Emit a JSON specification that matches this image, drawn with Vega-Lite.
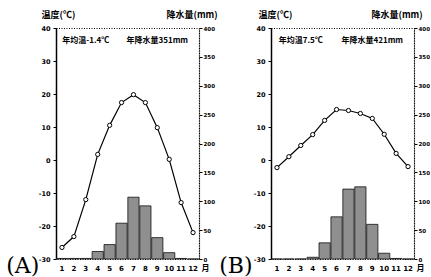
{
  "$schema": "https://vega.github.io/schema/vega-lite/v6.json",
  "background": "white",
  "padding": {"left": 5, "top": 9, "right": 0, "bottom": 0},
  "spacing": 72,
  "bounds": "flush",
  "config": {
    "font": "Noto Sans CJK SC",
    "view": {"stroke": "#000", "strokeDash": [1, 1.5], "strokeWidth": 1},
    "axis": {"labelFont": "DejaVu Sans", "labelFontSize": 7, "labelFontWeight": "bold", "labelColor": "#000", "domainColor": "#000", "tickColor": "#000", "grid": false, "labelOverlap": false, "labelBound": false, "labelFlush": false, "titleFont": "Noto Sans CJK SC", "titleFontSize": 9, "titleFontWeight": "bold", "titleColor": "#000"}
  },
  "datasets": {
    "A": [
      {"month": 1, "temp": -26.5, "precip": 1},
      {"month": 2, "temp": -23.2, "precip": 1},
      {"month": 3, "temp": -12.0, "precip": 1},
      {"month": 4, "temp": 1.7, "precip": 13},
      {"month": 5, "temp": 10.5, "precip": 25},
      {"month": 6, "temp": 17.4, "precip": 62},
      {"month": 7, "temp": 19.8, "precip": 107},
      {"month": 8, "temp": 17.4, "precip": 92},
      {"month": 9, "temp": 9.8, "precip": 37},
      {"month": 10, "temp": 0.2, "precip": 11},
      {"month": 11, "temp": -12.9, "precip": 1},
      {"month": 12, "temp": -22.0, "precip": 0}
    ],
    "B": [
      {"month": 1, "temp": -2.3, "precip": 0},
      {"month": 2, "temp": 1.0, "precip": 0},
      {"month": 3, "temp": 4.4, "precip": 0},
      {"month": 4, "temp": 7.7, "precip": 3},
      {"month": 5, "temp": 12.0, "precip": 28},
      {"month": 6, "temp": 15.3, "precip": 73},
      {"month": 7, "temp": 15.0, "precip": 121},
      {"month": 8, "temp": 14.1, "precip": 125},
      {"month": 9, "temp": 12.6, "precip": 60},
      {"month": 10, "temp": 7.8, "precip": 10},
      {"month": 11, "temp": 2.0, "precip": 1},
      {"month": 12, "temp": -2.0, "precip": 0}
    ],
    "notesA": [
      {"month": 3, "temp": 36.2, "label": "年均温-1.4℃"},
      {"month": 9, "temp": 36.2, "label": "年降水量351mm"}
    ],
    "notesB": [
      {"month": 3, "temp": 36.2, "label": "年均温7.5℃"},
      {"month": 9, "temp": 36.2, "label": "年降水量421mm"}
    ]
  },
  "hconcat": [
    {
      "width": 143, "height": 231,
      "title": {"text": "(A)", "orient": "bottom", "anchor": "start", "dx": -32, "offset": -16, "font": "DejaVu Serif", "fontSize": 22, "fontWeight": "normal", "color": "#000"},
      "data": {"name": "A"},
      "resolve": {"scale": {"y": "independent"}},
      "layer": [
        {
          "mark": {"type": "bar", "fill": "#8f8f8f", "stroke": "#111", "strokeWidth": 0.8},
          "encoding": {
            "x": {"field": "month", "type": "ordinal", "scale": {"domain": [1,2,3,4,5,6,7,8,9,10,11,12], "paddingInner": 0.06, "paddingOuter": 0.03},
              "axis": {"labelAngle": 0, "ticks": false, "domain": false, "labelPadding": 5, "labelOverlap": false, "title": "月", "titleX": 145, "titleY": 9, "titleAlign": "left", "titleBaseline": "middle", "titleFontSize": 8}},
            "y": {"field": "precip", "type": "quantitative", "scale": {"domain": [0, 400]},
              "axis": {"orient": "right", "values": [0,50,100,150,200,250,300,350,400], "labelOverlap": false, "labelFontSize": 5.5, "labelPadding": 1, "tickSize": 3, "domainDash": [1, 1], "domainWidth": 1.2, "title": "降水量(mm)", "titleAngle": 0, "titleAlign": "left", "titleBaseline": "bottom", "titleX": -33, "titleY": -9}}
          }
        },
        {
          "layer": [
            {
              "mark": {"type": "line", "color": "#000", "strokeWidth": 1.2, "point": {"filled": true, "fill": "white", "stroke": "#000", "strokeWidth": 1, "size": 18}},
              "encoding": {
                "x": {"field": "month", "type": "ordinal"},
                "y": {"field": "temp", "type": "quantitative", "scale": {"domain": [-30, 40], "nice": false},
                  "axis": {"tickCount": 8, "labelOverlap": false, "labelExpr": "replace(datum.label, '−', '-')", "labelFontSize": 6.5, "tickSize": 3, "labelPadding": 3, "domainWidth": 1.5, "title": "温度(℃)", "titleAngle": 0, "titleAlign": "left", "titleBaseline": "bottom", "titleX": -15, "titleY": -9}}
              }
            },
            {
              "data": {"name": "notesA"},
              "mark": {"type": "text", "fontSize": 8, "fontWeight": "bold", "font": "Noto Sans CJK SC", "color": "#000"},
              "encoding": {
                "x": {"field": "month", "type": "ordinal"},
                "y": {"field": "temp", "type": "quantitative"},
                "text": {"field": "label"}
              }
            }
          ]
        }
      ]
    },
    {
      "width": 143, "height": 231,
      "title": {"text": "(B)", "orient": "bottom", "anchor": "start", "dx": -34, "offset": -16, "font": "DejaVu Serif", "fontSize": 22, "fontWeight": "normal", "color": "#000"},
      "data": {"name": "B"},
      "resolve": {"scale": {"y": "independent"}},
      "layer": [
        {
          "mark": {"type": "bar", "fill": "#8f8f8f", "stroke": "#111", "strokeWidth": 0.8},
          "encoding": {
            "x": {"field": "month", "type": "ordinal", "scale": {"domain": [1,2,3,4,5,6,7,8,9,10,11,12], "paddingInner": 0.06, "paddingOuter": 0.03},
              "axis": {"labelAngle": 0, "ticks": false, "domain": false, "labelPadding": 5, "labelOverlap": false, "title": "月", "titleX": 145, "titleY": 9, "titleAlign": "left", "titleBaseline": "middle", "titleFontSize": 8}},
            "y": {"field": "precip", "type": "quantitative", "scale": {"domain": [0, 400]},
              "axis": {"orient": "right", "values": [0,50,100,150,200,250,300,350,400], "labelOverlap": false, "labelFontSize": 5.5, "labelPadding": 1, "tickSize": 3, "domainDash": [1, 1], "domainWidth": 1.2, "title": "降水量(mm)", "titleAngle": 0, "titleAlign": "left", "titleBaseline": "bottom", "titleX": -43, "titleY": -9}}
          }
        },
        {
          "layer": [
            {
              "mark": {"type": "line", "color": "#000", "strokeWidth": 1.2, "point": {"filled": true, "fill": "white", "stroke": "#000", "strokeWidth": 1, "size": 18}},
              "encoding": {
                "x": {"field": "month", "type": "ordinal"},
                "y": {"field": "temp", "type": "quantitative", "scale": {"domain": [-30, 40], "nice": false},
                  "axis": {"tickCount": 8, "labelOverlap": false, "labelExpr": "replace(datum.label, '−', '-')", "labelFontSize": 6.5, "tickSize": 3, "labelPadding": 3, "domainWidth": 1.5, "title": "温度(℃)", "titleAngle": 0, "titleAlign": "left", "titleBaseline": "bottom", "titleX": -13, "titleY": -9}}
              }
            },
            {
              "data": {"name": "notesB"},
              "mark": {"type": "text", "fontSize": 8, "fontWeight": "bold", "font": "Noto Sans CJK SC", "color": "#000"},
              "encoding": {
                "x": {"field": "month", "type": "ordinal"},
                "y": {"field": "temp", "type": "quantitative"},
                "text": {"field": "label"}
              }
            }
          ]
        }
      ]
    }
  ]
}
